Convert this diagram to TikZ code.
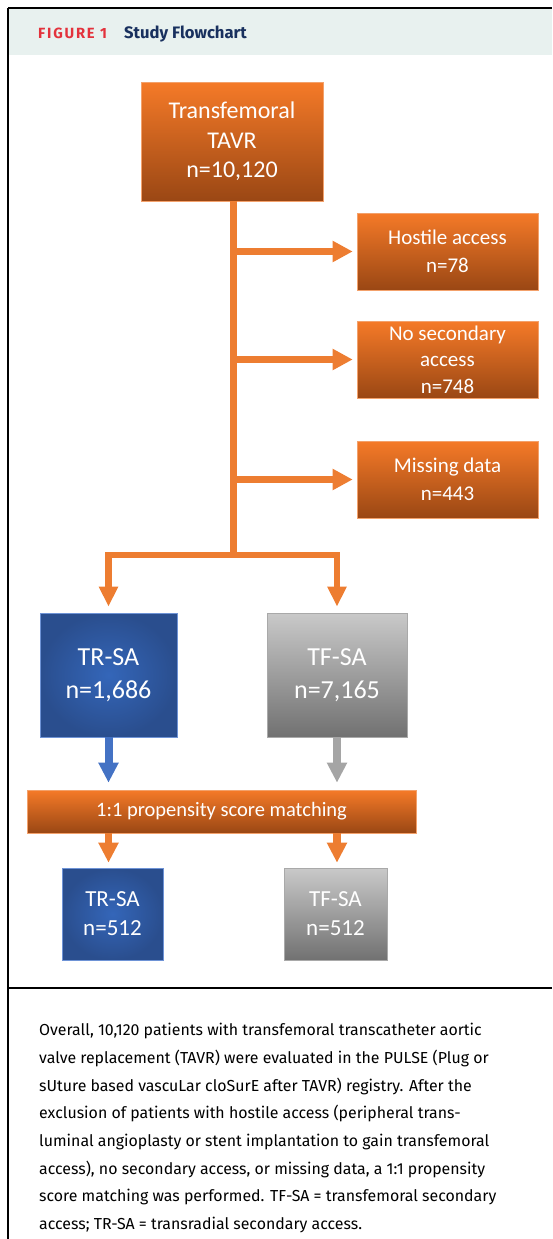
\documentclass[tikz,border=0pt]{standalone}
\usepackage{fontspec}
\usetikzlibrary{arrows.meta}
\newfontfamily\boxfont{Carlito}
\newfontfamily\capfont{Fira Sans}
\newfontfamily\labfont[LetterSpace=12]{Fira Sans}
\definecolor{accent}{HTML}{ED7D31}
\definecolor{otop}{HTML}{F57A28}
\definecolor{obot}{HTML}{9A4714}
\definecolor{oedge}{HTML}{F3A16B}
\definecolor{binner}{HTML}{3466B9}
\definecolor{bouter}{HTML}{2A4E8E}
\definecolor{bedge}{HTML}{6E93D6}
\definecolor{gtop}{HTML}{C9C9C9}
\definecolor{gbot}{HTML}{717171}
\definecolor{gedge}{HTML}{A9A9A9}
\definecolor{barrow}{HTML}{4472C4}
\definecolor{garrow}{HTML}{A5A5A5}
\definecolor{headbg}{HTML}{E8F1EF}
\definecolor{figred}{HTML}{E3323C}
\definecolor{navy}{HTML}{18305E}
\tikzset{
  box/.style={inner sep=0pt,align=center,text=white,font=\boxfont},
  obox/.style={box,draw=oedge,line width=0.6pt,top color=otop,bottom color=obot},
  bbox/.style={box,draw=bedge,line width=0.6pt,inner color=binner,outer color=bouter},
  gbox/.style={box,draw=gedge,line width=0.6pt,top color=gtop,bottom color=gbot},
  tip/.style={-{Triangle[length=20pt,width=#1]}},
  flow/.style={draw=accent,line width=6.5pt,line join=miter,tip=20pt},
}
\begin{document}
\begin{tikzpicture}[x=1pt,y=-1pt]
  \useasboundingbox (0,0) rectangle (552,1239);
  % frame and header
  \fill[headbg] (9,9) rectangle (552,55);
  \draw[line width=2pt] (8,8) -- (552,8);
  \draw[line width=1.5pt] (8,8) -- (8,1239);
  \draw[line width=1.5pt] (8,988) -- (552,988);
  \node[anchor=base west,inner sep=0pt,text=figred,font=\labfont\bfseries\fontsize{14.8}{17}\selectfont] (figlab) at (38,39) {FIGURE 1};
  \node[anchor=base west,inner sep=0pt,text=navy,font=\capfont\bfseries\fontsize{16.6}{19}\selectfont] (title) at (124,39) {Study Flowchart};

  % boxes
  \node[obox,minimum width=182,minimum height=119,font=\boxfont\fontsize{24}{29.5}\selectfont] (tavr) at (232,141.5) {Transfemoral\\TAVR\\n=10,120};
  \node[obox,minimum width=181,minimum height=77,font=\boxfont\fontsize{21}{27.5}\selectfont] (hostile) at (447.5,251.5) {Hostile access\\n=78};
  \node[obox,minimum width=181,minimum height=77,font=\boxfont\fontsize{21}{26.5}\selectfont] (nosec) at (447.5,359.5) {No secondary\\access\\n=748};
  \node[obox,minimum width=181,minimum height=77,font=\boxfont\fontsize{21}{27.5}\selectfont] (missing) at (447.5,479.5) {Missing data\\n=443};
  \node[bbox,minimum width=137,minimum height=124,font=\boxfont\fontsize{26}{33}\selectfont] (trsa) at (108.5,675) {TR-SA\\n=1,686};
  \node[gbox,minimum width=140,minimum height=124,font=\boxfont\fontsize{26}{33}\selectfont] (tfsa) at (337,675) {TF-SA\\n=7,165};
  \node[obox,minimum width=389,minimum height=43,font=\boxfont\fontsize{20.5}{24}\selectfont] (match) at (221.5,811.5) {1:1 propensity score matching};
  \node[bbox,minimum width=101,minimum height=92,font=\boxfont\fontsize{23}{29}\selectfont] (trsam) at (112.5,914) {TR-SA\\n=512};
  \node[gbox,minimum width=103,minimum height=92,font=\boxfont\fontsize{23}{29}\selectfont] (tfsam) at (335.5,914) {TF-SA\\n=512};

  % connectors
  \coordinate (split) at (233,555);
  \draw[draw=accent,line width=7pt] (tavr.south -| split) -- (split);
  \foreach \b in {hostile,nosec,missing}
    \draw[flow,shorten >=4pt] (split |- \b.west) -- (\b.west);
  \draw[flow,tip=18pt,shorten >=6pt] (split) -| (trsa.north);
  \draw[flow,tip=18pt,shorten >=6pt] (split) -| (tfsa.north);
  \draw[draw=barrow,line width=8pt,tip=19pt,shorten >=7pt] (trsa.south) -- (trsa.south |- match.north);
  \draw[draw=garrow,line width=8pt,tip=19pt,shorten >=7pt] (tfsa.south) -- (tfsa.south |- match.north);
  \draw[draw=accent,line width=7.5pt,tip=19pt,shorten >=5pt] (trsa |- match.south) -- (trsa |- trsam.north);
  \draw[draw=accent,line width=7.5pt,tip=19pt,shorten >=5pt] (tfsa |- match.south) -- (tfsa |- tfsam.north);

  % caption
  \node[anchor=north west,inner sep=0pt,align=left,font=\capfont\fontsize{15.9}{27.7}\selectfont] (note) at (39,1023) {Overall, 10,120 patients with transfemoral transcatheter aortic\\
valve replacement (TAVR) were evaluated in the PULSE (Plug or\\
sUture based vascuLar cloSurE after TAVR) registry. After the\\
exclusion of patients with hostile access (peripheral trans-\\
luminal angioplasty or stent implantation to gain transfemoral\\
access), no secondary access, or missing data, a 1:1 propensity\\
score matching was performed. TF-SA = transfemoral secondary\\
access; TR-SA = transradial secondary access.};
\end{tikzpicture}
\end{document}
